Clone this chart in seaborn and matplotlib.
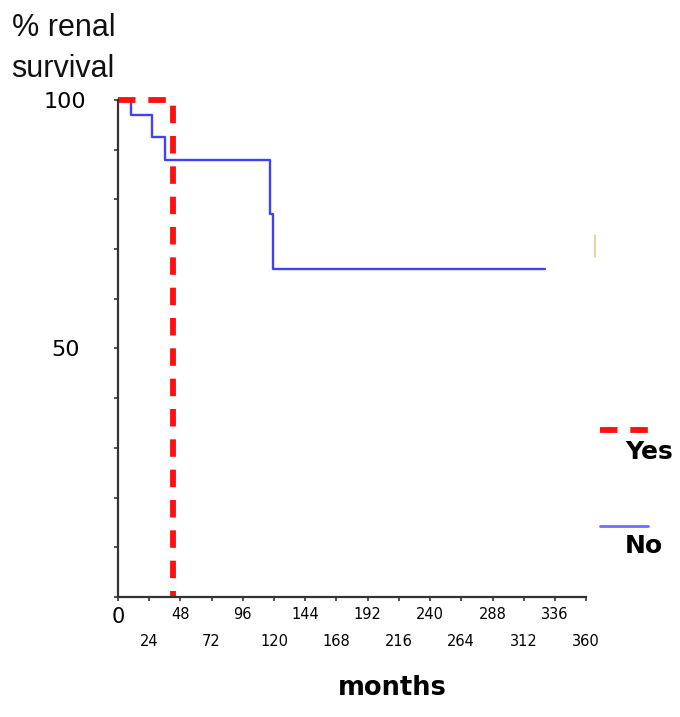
import matplotlib
matplotlib.use("Agg")

import matplotlib.pyplot as plt
import pandas as pd
import seaborn as sns

# Kaplan-Meier renal survival
yes_months = [0, 42]
yes_survival = [100, 0]
no_months = [0, 10, 26, 36, 117, 119, 328]
no_survival = [100, 97, 92.5, 88, 77, 66, 66]
x_ticks_top = list(range(0, 361, 48))
x_ticks_bottom = list(range(24, 361, 48))
y_ticks = list(range(0, 101, 10))
y_label_ticks = [50, 100]

yes_df = pd.DataFrame({"month": yes_months, "survival": yes_survival})
no_df = pd.DataFrame({"month": no_months, "survival": no_survival})

sns.set_style("white")
plt.rcParams["font.family"] = ["DejaVu Sans"]
plt.rcParams["text.color"] = "black"

fig = plt.figure(figsize=(6.8, 7.17), dpi=100)
ax = fig.add_axes([0.1735, 0.1674, 0.6885, 0.6931])

sns.lineplot(data=no_df, x="month", y="survival", drawstyle="steps-post", estimator=None,
             color="#4040ff", linewidth=1.7, ax=ax, clip_on=False)
sns.lineplot(data=yes_df, x="month", y="survival", drawstyle="steps-post", estimator=None,
             color="#ff1010", linewidth=4.2, ax=ax, clip_on=False, dashes=(3.0, 2.2))

ax.set_xlim(0, 360)
ax.set_ylim(0, 100)
for side in ["top", "right"]:
    ax.spines[side].set_visible(False)
for side in ["left", "bottom"]:
    ax.spines[side].set_color("#333333")
    ax.spines[side].set_linewidth(1.6)

# x ticks: labels alternate between two rows
ax.set_xticks(x_ticks_top)
ax.set_xticklabels([str(t) for t in x_ticks_top], fontsize=10.5)
ax.get_xticklabels()[0].set_fontsize(15)
ax.set_xticks(x_ticks_bottom, minor=True)
ax.set_xticklabels([str(t) for t in x_ticks_bottom], minor=True, fontsize=10.5)
ax.tick_params(axis="x", which="both", bottom=True, direction="out", length=3, width=1.2,
               color="#333333", labelcolor="black")
ax.tick_params(axis="x", which="major", pad=4)
ax.tick_params(axis="x", which="minor", pad=24)

ax.set_yticks(y_ticks)
ax.set_yticklabels([str(t) if t in y_label_ticks else "" for t in y_ticks], fontsize=16,
                   ha="center")
ax.tick_params(axis="y", left=True, direction="out", length=3, width=1.2, color="#333333",
               labelcolor="black", pad=35)

ax.set_xlabel("")
ax.set_ylabel("")

fig.text(0.017, 0.982, "% renal\nsurvival", fontsize=22, va="top", ha="left", linespacing=1.5,
         family="Liberation Sans", color="#111111")
fig.text(0.577, 0.023, "months", fontsize=18.5, fontweight="bold", ha="center", va="bottom")

# legend drawn by hand as in the original
fig.add_artist(plt.Line2D([0.883, 0.953], [0.4, 0.4], color="#ff1010", linewidth=4.2,
                          dashes=(3.0, 2.2), transform=fig.transFigure))
fig.text(0.919, 0.369, "Yes", fontsize=18, fontweight="bold", ha="left", va="center")
fig.add_artist(plt.Line2D([0.883, 0.953], [0.266, 0.266], color="#6f6fff", linewidth=2,
                          transform=fig.transFigure))
fig.text(0.919, 0.238, "No", fontsize=18, fontweight="bold", ha="left", va="center")
fig.add_artist(plt.Line2D([0.875, 0.875], [0.642, 0.672], color="#e4cc9a", linewidth=1.2,
                          transform=fig.transFigure))

fig.savefig("out.png", dpi=100)
